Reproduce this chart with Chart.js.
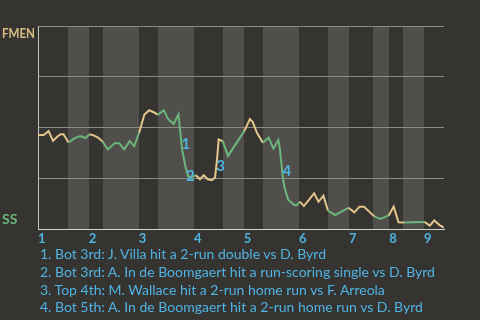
<!DOCTYPE html>
<html>
<head>
<meta charset="utf-8">
<script src="https://cdn.jsdelivr.net/npm/chart.js@4/dist/chart.umd.min.js"></script>
<style>
    body { margin: 0; background: #363430; }
    #wrap { position: relative; width: 480px; height: 320px; }
    #notes { position: absolute; left: 40px; top: 245px; font: 14px Lato, sans-serif; line-height: 17.8px; color: #4fb3e3; white-space: nowrap; }
</style>
</head>
<body>
<div id="wrap">
    <canvas id="wpChart" width="480" height="320"></canvas>
    <div id="notes"></div>
</div>
<script>
// play progress (x) and FMEN win probability % (y)
var playX = [0, 1.4, 2.6, 3.7, 4.8, 5.6, 6.3, 7.5, 8.8, 10.0, 10.7, 11.7, 12.7, 13.7, 14.7, 15.9,
    17.2, 18.9, 20.0, 21.2, 22.6, 23.7, 24.9, 26.2, 27.4, 28.6, 29.5, 31.0, 32.0, 33.4, 34.6, 34.9,
    35.5, 36.3, 37.0, 37.6, 38.9, 39.9, 40.8, 41.8, 42.8, 43.6, 44.1, 44.5, 45.5, 46.8, 50.8, 52.2,
    52.9, 53.9, 55.4, 56.8, 58.0, 59.2, 59.6, 60.3, 60.7, 61.6, 63.1, 63.8, 64.5, 65.5, 68.0, 69.1,
    70.3, 71.4, 73.2, 74.4, 76.5, 77.9, 79.2, 80.3, 82.9, 84.3, 86.4, 87.6, 88.8, 90.2, 92.6, 95.2,
    96.5, 97.6, 99.0, 100];
var winPct = [46.3, 46.3, 48.2, 43.4, 45.6, 46.7, 46.7, 42.6, 44.4, 45.6, 45.7, 44.8, 46.7, 46.1, 45.2, 43.1,
    39.2, 42.3, 42.3, 39.2, 43.3, 40.8, 47.4, 56.4, 58.5, 57.4, 56.2, 58.5, 54.3, 51.7, 56.4, 50.5,
    39.2, 30.9, 26.0, 25.3, 26.5, 24.5, 26.5, 24.5, 24.0, 25.3, 34.3, 44.1, 43.3, 36.0, 48.2, 54.2,
    52.7, 47.5, 42.5, 45.0, 39.6, 43.8, 39.2, 25.5, 20.6, 14.5, 11.8, 11.8, 13.5, 11.3, 17.6, 13.4,
    16.4, 9.1, 6.9, 8.2, 10.5, 8.2, 11.0, 11.0, 6.1, 5.0, 6.7, 11.1, 3.3, 3.2, 3.3, 3.5,
    1.7, 4.2, 1.8, 0.7];

// where each half inning starts (top 1st, bot 1st, top 2nd ...)
var halfStarts = [0, 7.3, 12.5, 15.9, 24.8, 29.5, 38.4, 45.5, 50.7, 55.4, 64.3, 71.4, 76.6, 82.6, 86.5, 89.9, 95.1, 100];
var inningLabels = ['1', '2', '3', '4', '5', '6', '7', '8', '9'];

// key plays
var eventLabels = ['1', '2', '3', '4'];
var eventX = [36.4, 37.5, 45.0, 61.3];
var eventY = [41.7, 26.0, 30.9, 28.4];
var notes = [
    '1. Bot 3rd: J. Villa hit a 2-run double vs D. Byrd',
    '2. Bot 3rd: A. In de Boomgaert hit a run-scoring single vs D. Byrd',
    '3. Top 4th: M. Wallace hit a 2-run home run vs F. Arreola',
    '4. Bot 5th: A. In de Boomgaert hit a 2-run home run vs D. Byrd'
];

var BG = '#363430', BAND = '#504f4c', GOLD = '#e3c68c', GREEN = '#6cb67b', BLUE = '#4fb3e3';
var FONT = 'Lato, sans-serif';

var inningStarts = halfStarts.filter(function(v, i) { return i % 2 == 0 && i < halfStarts.length - 1; });

function isBottom(x) {
    for (var i = 0; i < halfStarts.length - 1; i++) {
        if (x >= halfStarts[i] && x < halfStarts[i + 1]) return i % 2 == 1;
    }
    return false;
}

document.getElementById('notes').innerHTML = notes.join('<br>');

var bands = {
    id: 'bands',
    beforeDraw: function(chart) {
        var c = chart.ctx, a = chart.chartArea, xs = chart.scales.x;
        c.save();
        c.fillStyle = BG;
        c.fillRect(0, 0, chart.width, chart.height);
        c.fillStyle = BAND;
        for (var i = 1; i < halfStarts.length - 1; i += 2) {
            var x0 = Math.round(xs.getPixelForValue(halfStarts[i]));
            var x1 = Math.round(xs.getPixelForValue(halfStarts[i + 1]));
            c.fillRect(x0, a.top, x1 - x0, a.bottom - a.top);
        }
        c.restore();
    },
    afterDatasetsDraw: function(chart) {
        var c = chart.ctx, xs = chart.scales.x, ys = chart.scales.y;
        c.save();
        c.textAlign = 'center';
        c.textBaseline = 'middle';
        c.font = 'bold 15px ' + FONT;
        c.fillStyle = BLUE;
        eventLabels.forEach(function(t, i) {
            c.fillText(t, xs.getPixelForValue(eventX[i]), ys.getPixelForValue(eventY[i]));
        });
        // team names on the left, squeezed to fit the margin
        c.textAlign = 'left';
        c.font = 'bold 14px ' + FONT;
        c.fillStyle = '#d8bd85';
        c.fillText('FMEN', 2, ys.getPixelForValue(96.4), 33);
        c.fillStyle = GREEN;
        c.fillText('SS', 2, ys.getPixelForValue(4.6), 16);
        c.restore();
    }
};

var ctx = document.getElementById('wpChart').getContext('2d');
var wpChart = new Chart(ctx, {
    type: 'line',
    data: {
        datasets: [{
            data: playX.map(function(x, i) { return {x: x, y: winPct[i]}; }),
            borderWidth: 2,
            pointRadius: 0,
            tension: 0,
            borderColor: GOLD,
            segment: {
                borderColor: function(s) {
                    return isBottom((s.p0.parsed.x + s.p1.parsed.x) / 2) ? GREEN : GOLD;
                }
            }
        }]
    },
    options: {
        responsive: false,
        devicePixelRatio: 1,
        animation: false,
        layout: { padding: { left: 38, top: 26, right: 36, bottom: 71.4 } },
        plugins: { legend: { display: false }, tooltip: { enabled: false } },
        scales: {
            x: {
                type: 'linear',
                min: 0,
                max: 100,
                afterBuildTicks: function(scale) {
                    scale.ticks = inningStarts.map(function(v) { return {value: v}; });
                },
                ticks: {
                    autoSkip: false,
                    maxRotation: 0,
                    align: 'start',
                    padding: 2,
                    color: BLUE,
                    font: { family: FONT, size: 13, weight: 'bold' },
                    callback: function(v, i) { return inningLabels[i]; }
                },
                grid: { display: false, drawTicks: false },
                border: { display: true, color: '#d4d4d2', width: 1 }
            },
            y: {
                min: 0,
                max: 100,
                ticks: { display: false, stepSize: 25 },
                grid: { color: '#8b8a88', drawTicks: false },
                border: { display: true, color: '#c4c4c2', width: 1 }
            }
        }
    },
    plugins: [bands]
});
</script>
</body>
</html>
